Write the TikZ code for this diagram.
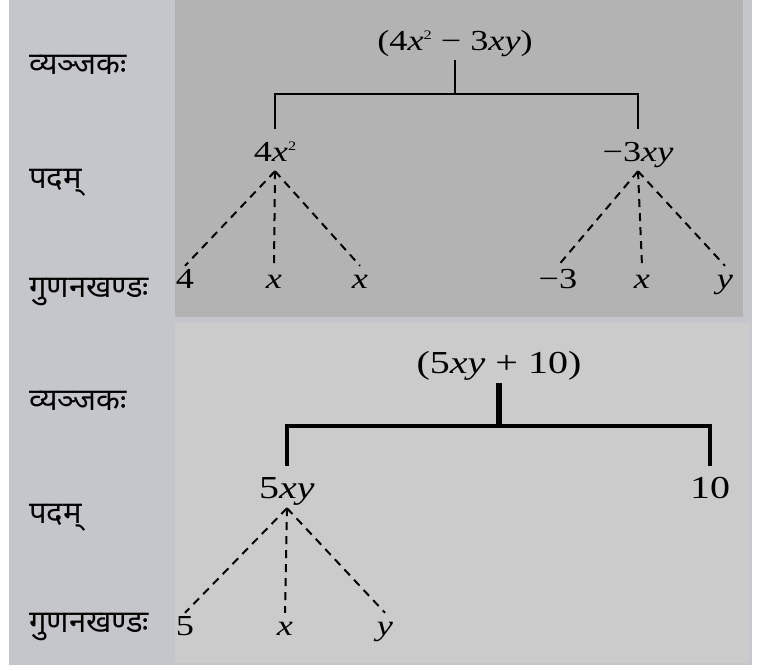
\documentclass[tikz,border=0pt]{standalone}
\usepackage{fontspec}
\setmainfont{Liberation Serif}
\newfontfamily\alg[FakeStretch=1.25]{Liberation Serif}
\newfontfamily\deva[Script=Devanagari]{Noto Sans}
\usetikzlibrary{positioning}
\definecolor{sideCol}{RGB}{197,198,203}
\definecolor{upCol}{RGB}{179,179,179}
\definecolor{lowCol}{RGB}{203,203,203}
\newcommand{\sq}{\raisebox{11pt}{\fontsize{13}{13}\selectfont 2}}
\tikzset{
  rl/.style={anchor=base west,inner sep=0pt,font=\deva\fontsize{31}{33}\selectfont},
  expr/.style={anchor=base,inner xsep=1pt,inner ysep=3pt,text height=29pt,text depth=7pt,
               font=\alg\fontsize{29}{31}\selectfont},
  leaf/.style={expr,text height=20pt,inner ysep=2pt},
  tie/.style={line width=2pt},
  tiebig/.style={line width=4pt},
  fac/.style={line width=2pt,dash pattern=on 8pt off 6pt},
}

\begin{document}
\begin{tikzpicture}[x=1pt,y=-1pt]
    \useasboundingbox (0,0) rectangle (771,670);
    % panels
    \fill[sideCol] (9,0) rectangle (752,665);
    \fill[upCol] (175,0) rectangle (743,317);
    \fill[lowCol] (175,323) rectangle (750,663);
    % row labels (left column)
    \foreach \i/\y/\t in {1/74/{व्यञ्जकः},2/188/{पदम्},3/297/{गुणनखण्डः},
                          4/410/{व्यञ्जकः},5/523/{पदम्},6/632/{गुणनखण्डः}}
       \node[rl] (r\i) at (29,\y) {\t};
    % first expression: terms and factors
    \node[expr] (e1) at (455,50) {(4\textit{x}\sq\ − 3\textit{xy})};
    \node[expr] (p11) at (275,161) {4\textit{x}\sq};
    \node[expr] (p12) at (638,161) {−3\textit{xy}};
    \draw[tie] (e1.south) -- ++(0,34) coordinate (j1);
    \draw[tie] (p11.north) |- (j1) -| (p12.north);
    \foreach \n/\x/\t in {a/185/4,b/274/\textit{x},c/360/\textit{x}}
       \node[leaf] (f1\n) at (\x,288) {\t};
    \foreach \n/\x/\t in {a/558/−3,b/642/\textit{x},c/725/\textit{y}}
       \node[leaf] (f2\n) at (\x,288) {\t};
    \foreach \n in {a,b,c} {
       \draw[fac] (p11.south) -- (f1\n.north);
       \draw[fac] (p12.south) -- (f2\n.north);
    }
    % second expression
    \node[expr,font=\alg\fontsize{32}{34}\selectfont] (e2) at (499,373) {(5\textit{xy} + 10)};
    \node[expr,font=\alg\fontsize{32}{34}\selectfont] (p21) at (287,498) {5\textit{xy}};
    \node[expr,font=\alg\fontsize{32}{34}\selectfont] (p22) at (710,498) {10};
    \draw[line width=6pt] (e2.south) -- ++(0,43) coordinate (j2);
    \draw[tiebig] (p21.north) |- (j2) -| (p22.north);
    \foreach \n/\x/\t in {a/185/5,b/285/\textit{x},c/385/\textit{y}}
       \node[leaf] (f3\n) at (\x,635) {\t};
    \foreach \n in {a,b,c} \draw[fac] (p21.south) -- (f3\n.north);
\end{tikzpicture}
\end{document}
